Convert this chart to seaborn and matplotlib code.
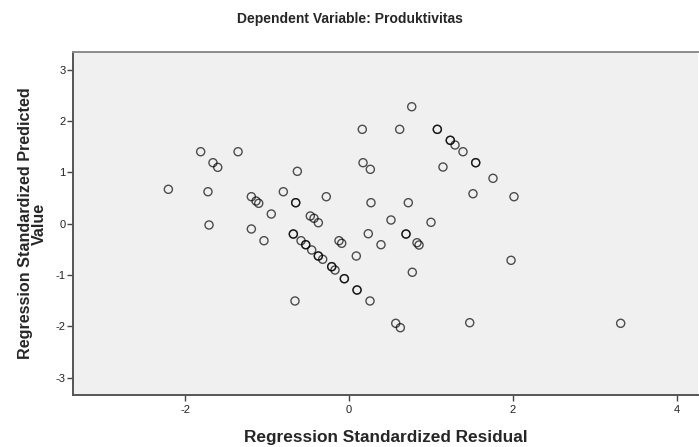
import matplotlib
matplotlib.use("Agg")
import matplotlib.pyplot as plt
import seaborn as sns
import pandas as pd

# Regression standardized residual (x) and standardized predicted value (y)
residual = [
    0.162, -1.809, -1.353, -1.659, -1.601, -0.630, 0.171, 0.260, -2.203, -1.720,
    -1.191, -1.134, -1.101, -0.801, -0.650, -0.650, -0.277, 0.268, -0.948, -0.472,
    -0.427, -0.374, -1.707, -1.191, -0.679, -0.679, 0.235, 0.765, 0.618, 1.077,
    1.077, 1.235, 1.235, 1.293, 1.390, 1.545, 1.545, 1.146, 1.756, 1.512,
    2.012, 0.723, 0.512, 1.000, 0.695, 0.695, -1.037, -0.585, -0.528, -0.528,
    -0.455, -0.374, -0.374, -0.321, -0.211, -0.211, -0.171, -0.057, -0.057, 0.098,
    0.098, 0.256, -0.659, -0.122, -0.089, 0.089, 0.390, 0.829, 0.854, 0.772,
    1.976, 0.570, 0.626, 1.472, 3.313,
]
predicted = [
    1.838, 1.402, 1.402, 1.188, 1.098, 1.020, 1.188, 1.059, 0.670, 0.623,
    0.526, 0.442, 0.397, 0.623, 0.409, 0.409, 0.526, 0.409, 0.189, 0.150,
    0.105, 0.019, -0.025, -0.103, -0.201, -0.201, -0.195, 2.278, 1.838, 1.838,
    1.838, 1.624, 1.624, 1.533, 1.402, 1.188, 1.188, 1.104, 0.884, 0.584,
    0.526, 0.409, 0.072, 0.027, -0.201, -0.201, -0.331, -0.331, -0.409, -0.409,
    -0.512, -0.629, -0.629, -0.693, -0.837, -0.837, -0.902, -1.071, -1.071, -1.291,
    -1.291, -1.505, -1.505, -0.331, -0.382, -0.629, -0.409, -0.370, -0.415, -0.946,
    -0.713, -1.940, -2.025, -1.928, -1.940,
]
x_ticks = [-2, 0, 2, 4]
y_ticks = [-3, -2, -1, 0, 1, 2, 3]

df = pd.DataFrame({"resid": residual, "pred": predicted})

sns.set_style("white")
plt.rcParams["font.family"] = ["Liberation Sans", "DejaVu Sans"]

fig = plt.figure(figsize=(6.99, 4.47), dpi=100)
ax = fig.add_axes([73 / 699, (447 - 395) / 447, (698 - 73) / 699, (395 - 52) / 447])
ax.set_facecolor("#f0f0f0")

sns.scatterplot(data=df, x="resid", y="pred", ax=ax, marker="o", s=34,
                facecolors="none", edgecolor="black", linewidth=1.0, alpha=0.68)

ax.set_xlim(-3.366, 4.256)
ax.set_ylim(-3.336, 3.344)
ax.set_xticks(x_ticks)
ax.set_yticks(y_ticks)
ax.set_xticklabels([str(t) for t in x_ticks])
ax.set_yticklabels([str(t) for t in y_ticks])
ax.tick_params(axis="both", direction="out", length=4.3, width=1, color="#444444",
               labelsize=8, labelcolor="#222222", bottom=True, left=True)
ax.tick_params(axis="x", pad=3)
ax.tick_params(axis="y", pad=1)

for side in ["top", "right"]:
    ax.spines[side].set_color("#8c8c8c")
    ax.spines[side].set_linewidth(1.4)
for side in ["left", "bottom"]:
    ax.spines[side].set_color("#555555")
    ax.spines[side].set_linewidth(1.4)
ax.spines["right"].set_visible(False)

ax.set_xlabel("Regression Standardized Residual", fontsize=12.4, fontweight="bold",
              labelpad=11)
ax.set_ylabel("Regression Standardized Predicted\nValue", fontsize=11.6,
              fontweight="bold", labelpad=6, multialignment="center", linespacing=0.95)
fig.text(349.5 / 699, 1 - 19 / 447, "Dependent Variable: Produktivitas",
         ha="center", va="center", fontsize=10, fontweight="bold")

fig.savefig("out.png", dpi=100)
